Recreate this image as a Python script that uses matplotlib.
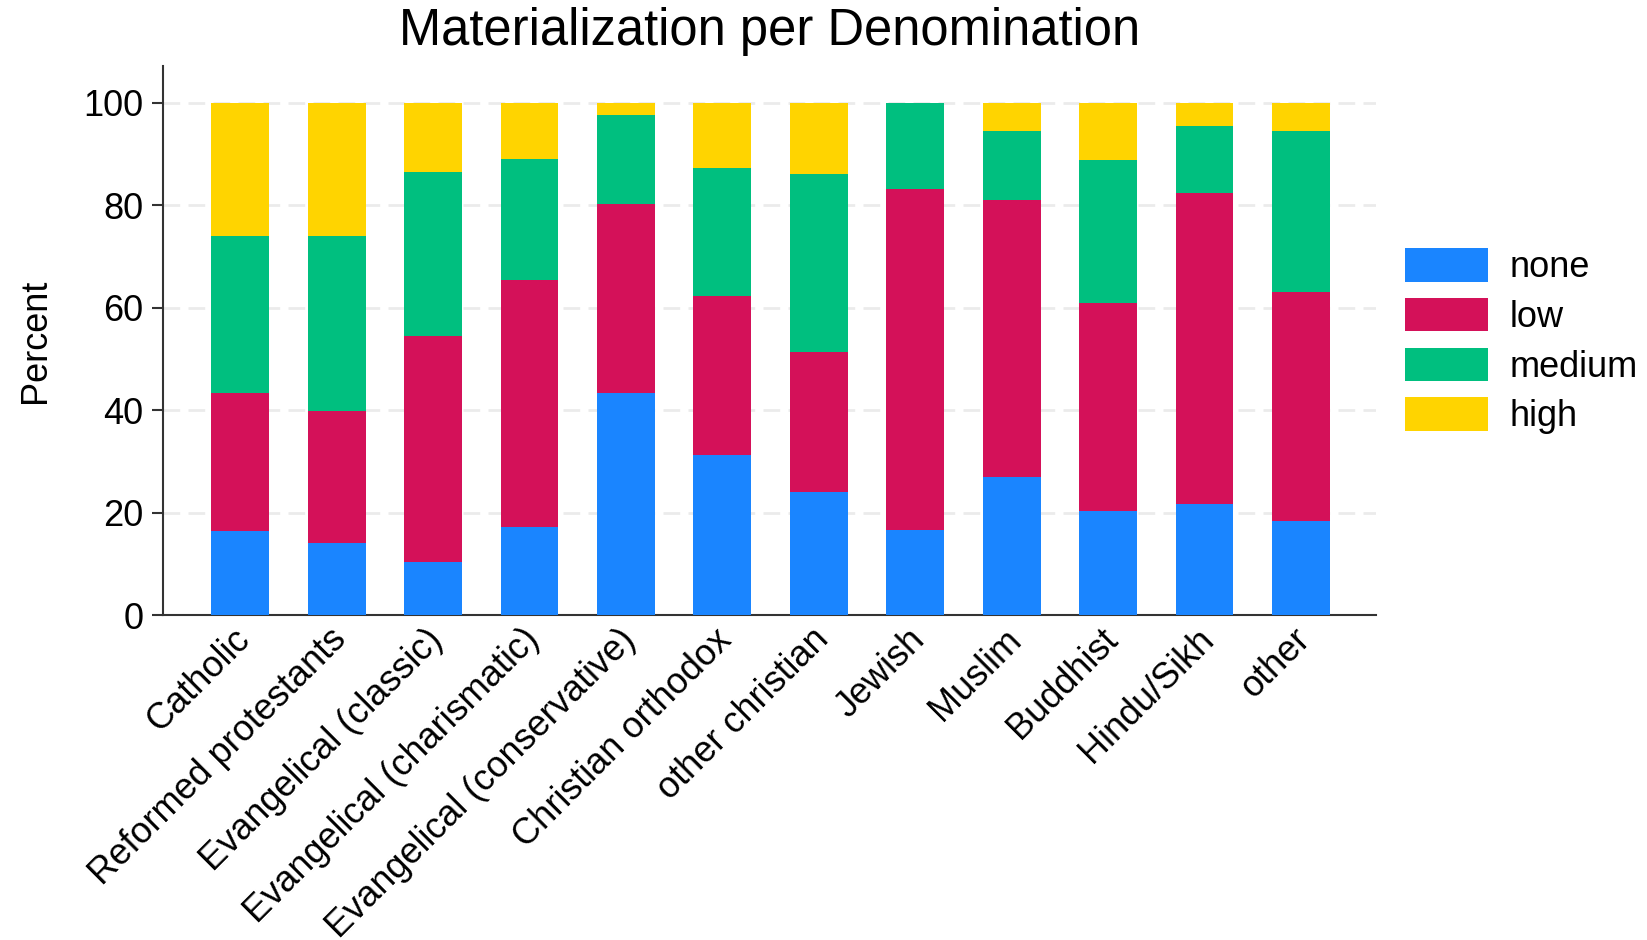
import matplotlib
matplotlib.use("Agg")
import matplotlib.pyplot as plt
import matplotlib.transforms as mtransforms
import numpy as np
from matplotlib.patches import Patch

categories = ["Catholic", "Reformed protestants", "Evangelical (classic)",
              "Evangelical (charismatic)", "Evangelical (conservative)",
              "Christian orthodox", "other christian", "Jewish", "Muslim",
              "Buddhist", "Hindu/Sikh", "other"]
# cumulative tops
none_top   = [16.5, 14.1, 10.4, 17.1, 43.4, 31.2, 24.1, 16.6, 26.9, 20.3, 21.6, 18.4]
low_top    = [43.3, 39.9, 54.4, 65.4, 80.3, 62.3, 51.4, 83.2, 81.0, 61.0, 82.4, 63.1]
medium_top = [74.1, 74.1, 86.6, 89.1, 97.7, 87.3, 86.2, 100.0, 94.5, 88.8, 95.5, 94.6]
high_top   = [100.0] * 12

none = np.array(none_top)
low = np.array(low_top) - np.array(none_top)
medium = np.array(medium_top) - np.array(low_top)
high = np.array(high_top) - np.array(medium_top)

series = ["none", "low", "medium", "high"]
colors = ["#1A85FF", "#D41159", "#00BF7F", "#FFD400"]
yticks = [0, 20, 40, 60, 80, 100]

plt.rcParams['font.family'] = ['Liberation Sans', 'DejaVu Sans']

fig = plt.figure(figsize=(16.47, 9.40), dpi=100)
ax = fig.add_axes([0.099, 0.3457, 0.7365, 0.584])

x = np.arange(len(categories))
bottom = np.zeros(len(categories))
for vals, c in zip([none, low, medium, high], colors):
    ax.bar(x, vals, width=0.6, bottom=bottom, color=c, edgecolor='none', zorder=3)
    bottom = bottom + vals

ax.set_xlim(-0.8, 11.78)
ax.set_ylim(0, 107.2)
ax.set_yticks(yticks)
ax.set_yticklabels([str(t) for t in yticks], fontsize=26)
for t in yticks[1:]:
    ax.axhline(t, color='#ebebeb', lw=2, ls=(0, (6, 3)), zorder=1)

ax.set_xticks(x)
ax.set_xticklabels(categories, rotation=45, ha='right', rotation_mode='anchor', fontsize=26)
ax.tick_params(axis='x', length=0, pad=8)
offset = mtransforms.ScaledTranslation(-8 / 100, 4 / 100, fig.dpi_scale_trans)
for lbl in ax.get_xticklabels():
    lbl.set_transform(lbl.get_transform() + offset)
ax.tick_params(axis='y', length=8, width=1.5, color='#333333', pad=6)
for s in ['top', 'right']:
    ax.spines[s].set_visible(False)
for s in ['left', 'bottom']:
    ax.spines[s].set_color('#333333')
    ax.spines[s].set_linewidth(1.5)

ax.set_ylabel("Percent", fontsize=26, labelpad=22)
fig.text(0.467, 1 - 31.5 / 940, "Materialization per Denomination", fontsize=36.5,
         ha='center', va='center')

handles = [Patch(facecolor=c, edgecolor='none', label=s) for s, c in zip(series, colors)]
fig.legend(handles=handles, loc='center left', bbox_to_anchor=(0.853, 0.637),
           frameon=False, fontsize=26, handlelength=2.3, handleheight=1.05,
           labelspacing=0.35, handletextpad=0.6, borderaxespad=0, borderpad=0)

fig.savefig("out.png", dpi=100, facecolor='white')
